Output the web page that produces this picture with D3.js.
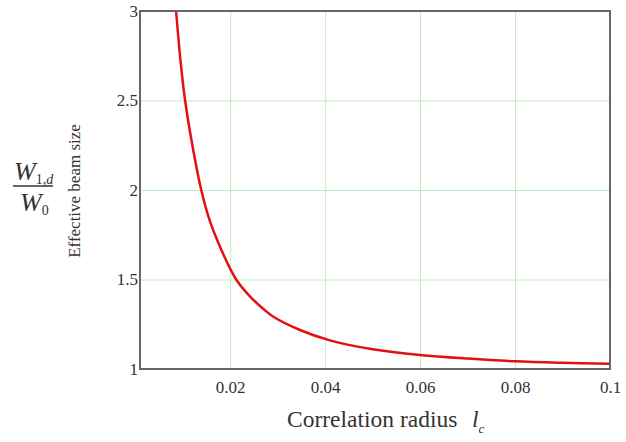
<!DOCTYPE html>
<html>
<head>
<meta charset="utf-8">
<script src="https://cdn.jsdelivr.net/npm/d3@7"></script>
<style>
  body { margin: 0; background: #fff; }
  svg text { font-family: "Liberation Serif", "Times New Roman", serif; fill: #333; }
</style>
</head>
<body>
<svg id="chart"></svg>
<script>
// values
const radius = [0.0080, 0.0086, 0.0095, 0.0105, 0.0121, 0.0139, 0.0158, 0.0179, 0.0200, 0.0215, 0.0240,
  0.0270, 0.0291, 0.0347, 0.0410, 0.0500, 0.0600, 0.0700, 0.0800, 0.0900, 0.1000];
const beamSize = [3.20, 3.00, 2.73, 2.50, 2.24, 2.00, 1.82, 1.68, 1.56, 1.49, 1.41,
  1.335, 1.292, 1.218, 1.16, 1.11, 1.078, 1.058, 1.043, 1.035, 1.030];
const xTicks = [0.02, 0.04, 0.06, 0.08, 0.1];
const yTicks = [1, 1.5, 2, 2.5, 3];

const margin = {top: 11, bottom: 73, left: 140, right: 16};
const width = 626 - margin.left - margin.right;
const height = 442 - margin.top - margin.bottom;

const root = d3.select('#chart')
.attr('width', 626)
.attr('height', 442);

const svg = root.append('g')
.attr('transform', `translate(${margin.left}, ${margin.top})`);

const x = d3.scaleLinear().domain([0.001, 0.1]).range([0, width]);
const y = d3.scaleLinear().domain([1, 3]).range([height, 0]);

// grid
svg.append('g')
.attr('transform', `translate(0, ${height})`)
.call(d3.axisBottom(x).tickValues(xTicks).tickSize(-height).tickFormat(''))
.call(g => g.select('.domain').remove())
.call(g => g.selectAll('line').attr('stroke', '#bdeebd').attr('stroke-width', 1));

svg.append('g')
.call(d3.axisLeft(y).tickValues(yTicks).tickSize(-width).tickFormat(''))
.call(g => g.select('.domain').remove())
.call(g => g.selectAll('line').attr('stroke', '#bdeebd').attr('stroke-width', 1));

// tick labels
svg.append('g')
.attr('transform', `translate(0, ${height})`)
.call(d3.axisBottom(x).tickValues(xTicks).tickSize(0).tickPadding(12).tickFormat(d => String(d)))
.attr('font-family', '"Liberation Serif", serif')
.attr('font-size', 17)
.call(g => g.select('.domain').remove())
.call(g => g.selectAll('text').attr('fill', '#444'));

svg.append('g')
.call(d3.axisLeft(y).tickValues(yTicks).tickSize(0).tickPadding(2).tickFormat(d => String(d)))
.attr('font-family', '"Liberation Serif", serif')
.attr('font-size', 17)
.call(g => g.select('.domain').remove())
.call(g => g.selectAll('text').attr('fill', '#444'));

// curve
svg.append('clipPath').attr('id', 'clip')
.append('rect').attr('width', width).attr('height', height);

const pts = radius.map((r, i) => [r, beamSize[i]]);
svg.append('path')
.datum(pts)
.attr('clip-path', 'url(#clip)')
.attr('fill', 'none')
.attr('stroke', '#e41010')
.attr('stroke-width', 2.5)
.attr('d', d3.line().x(d => x(d[0])).y(d => y(d[1])).curve(d3.curveCatmullRom.alpha(0.5)));

// frame
svg.append('rect')
.attr('width', width).attr('height', height)
.attr('fill', 'none')
.attr('stroke', '#666')
.attr('stroke-width', 2);

// x axis title
const xt = root.append('text')
.attr('x', 287).attr('y', 427)
.style('font-size', '23.5px');
xt.append('tspan').text('Correlation radius');
xt.append('tspan').attr('x', 472).style('font-style', 'italic').text('l');
xt.append('tspan').attr('dy', 6).style('font-size', '13px').style('font-style', 'italic').text('c');

// y axis title: fraction + rotated text
const num = root.append('text').attr('x', 14).attr('y', 180).style('font-size', '26px');
num.append('tspan').style('font-style', 'italic').text('W');
num.append('tspan').attr('dy', 4).style('font-size', '14px').text('1,');
num.append('tspan').style('font-size', '14px').style('font-style', 'italic').text('d');

root.append('line')
.attr('x1', 13).attr('x2', 53).attr('y1', 186).attr('y2', 186)
.attr('stroke', '#333').attr('stroke-width', 1.5);

const den = root.append('text').attr('x', 20).attr('y', 211).style('font-size', '26px');
den.append('tspan').style('font-style', 'italic').text('W');
den.append('tspan').attr('dy', 4).style('font-size', '14px').text('0');

root.append('text')
.attr('transform', 'translate(80, 191) rotate(-90)')
.attr('text-anchor', 'middle')
.style('font-size', '17px')
.text('Effective beam size');
</script>
</body>
</html>
